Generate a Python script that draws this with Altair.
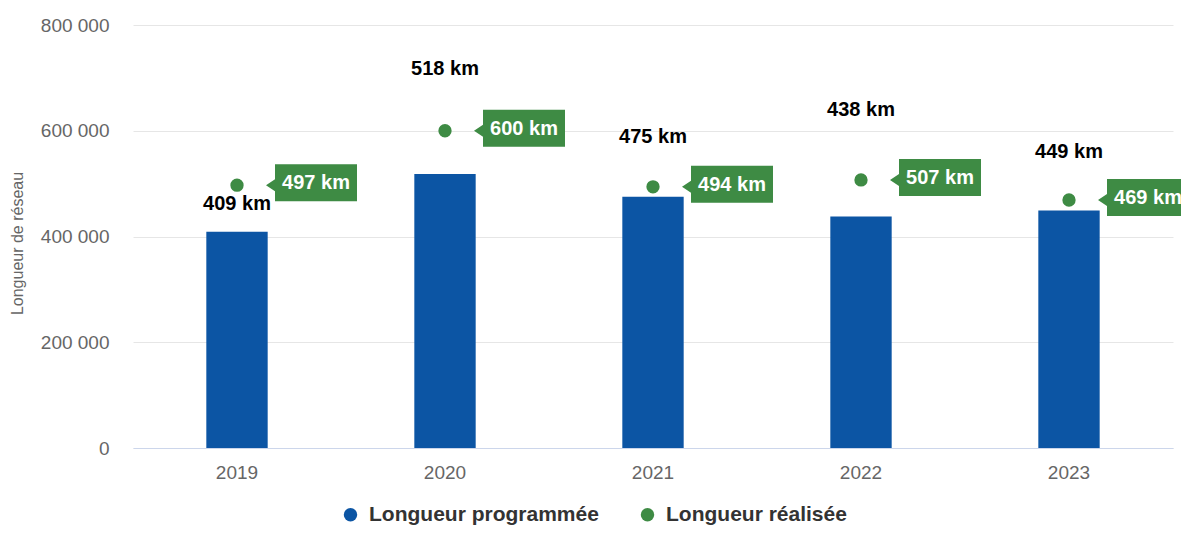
import altair as alt
import pandas as pd

# ---- data ----
years = ["2019", "2020", "2021", "2022", "2023"]
programmee = [409000, 518000, 475000, 438000, 449000]
realisee = [497000, 600000, 494000, 507000, 469000]
prog_labels = ["409 km", "518 km", "475 km", "438 km", "449 km"]
real_labels = ["497 km", "600 km", "494 km", "507 km", "469 km"]
series_names = ["Longueur programmée", "Longueur réalisée"]
y_ticks = [0, 200000, 400000, 600000, 800000]

# ---- styles ----
BLUE = "#0c55a4"
GREEN = "#3e8b44"
FONT = "Liberation Sans"
# vertical pixel shifts of the bar value labels (placement in the reference)
prog_label_dy = [-28, -105, -60, -106, -59]
# callout shape (left-pointing arrow + box), in units of 50 px
CALLOUT = "M0.58,0 L0.76,-0.12 L0.76,-0.42 L2.4,-0.42 L2.4,0.32 L0.76,0.32 L0.76,0.12 Z"

df_bar = pd.DataFrame({"year": years, "value": programmee, "label": prog_labels,
                       "series": series_names[0]})
df_pt = pd.DataFrame({"year": years, "value": realisee, "label": real_labels,
                      "series": series_names[1]})

x = alt.X("year:N",
          scale=alt.Scale(paddingInner=0.705, paddingOuter=0.3525),
          axis=alt.Axis(title=None, labelAngle=0, labelFont=FONT, labelFontSize=19,
                        labelColor="#666666", labelPadding=15, ticks=False,
                        domainColor="#ccd6eb", domainWidth=1, grid=False))
yscale = alt.Scale(domain=[0, 800000], nice=False)
y_axis = alt.Axis(title="Longueur de réseau", values=y_ticks,
                  labelExpr="replace(format(datum.value, ','), ',', ' ')",
                  labelFont=FONT, labelFontSize=19, labelColor="#666666",
                  labelPadding=24, ticks=False, domain=False,
                  gridColor="#e6e6e6", gridWidth=1,
                  titleFont=FONT, titleFontSize=16, titleFontWeight="normal",
                  titleColor="#666666", titleX=-116, titleY=218,
                  titleAlign="center", titleBaseline="middle", titleAngle=270)
y = alt.Y("value:Q", scale=yscale, axis=y_axis)
color = alt.Color("series:N",
                  scale=alt.Scale(domain=series_names, range=[BLUE, GREEN]),
                  legend=alt.Legend(title=None, orient="none", legendX=207, legendY=479,
                                    direction="horizontal", symbolType="circle",
                                    symbolSize=180, symbolStrokeWidth=0, symbolOpacity=1,
                                    labelFont=FONT, labelFontSize=21, labelLimit=500,
                                    labelFontWeight="bold", labelColor="#333333",
                                    labelOffset=8, columnPadding=38, padding=0))

bars = alt.Chart(df_bar).mark_bar().encode(x=x, y=y, color=color)
points = alt.Chart(df_pt).mark_point(filled=True, size=177, opacity=1).encode(
    x=x, y=y, color=color)
callouts = alt.Chart(df_pt).mark_point(shape=CALLOUT, filled=True, size=10000,
                                       opacity=1, color=GREEN, strokeWidth=0).encode(
    x=x, y=y)
callout_text = alt.Chart(df_pt).mark_text(font=FONT, fontSize=20, fontWeight="bold",
                                          color="white", dx=79, dy=-2,
                                          baseline="middle").encode(
    x=x, y=y, text="label:N")

layers = [bars, points, callouts, callout_text]
for yr, off in zip(years, prog_label_dy):
    layers.append(
        alt.Chart(df_bar).transform_filter(alt.datum.year == yr)
        .mark_text(font=FONT, fontSize=20, fontWeight="bold", color="#000000",
                   dy=off, baseline="middle")
        .encode(x=x, y=y, text="label:N")
    )

chart = alt.layer(*layers).properties(
    width=1040, height=423,
    background="white",
    autosize=alt.AutoSizeParams(type="none"),
    padding={"left": 125, "top": 17, "right": 8, "bottom": 78},
).configure_view(stroke=None)

chart.save("out.html", embed_options={"renderer": "svg", "actions": False})
